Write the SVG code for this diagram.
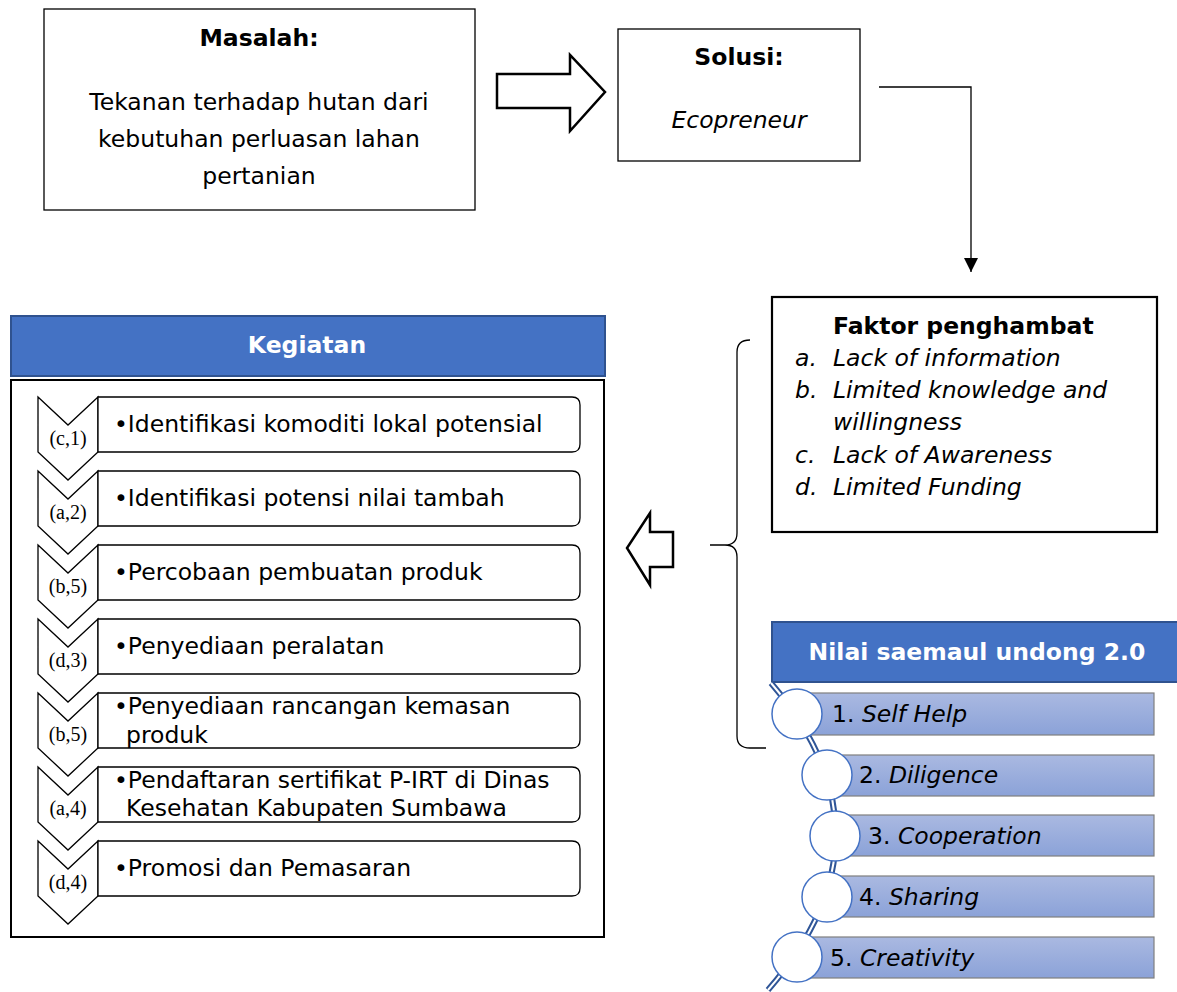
<svg xmlns="http://www.w3.org/2000/svg" width="1177" height="992" viewBox="0 0 1177 992">
<style>
.t{font-family:"DejaVu Sans","Liberation Sans",sans-serif;fill:#000;font-size:23.5px}
.b{font-weight:bold}
.i{font-style:italic}
.box{fill:#fff;stroke:#000;stroke-width:1.3}
.blk{fill:#fff;stroke:#000;stroke-width:2.5;stroke-linejoin:miter}
.hdr{fill:#4472C4;stroke:#2F528F;stroke-width:2}
.wt{font-family:"DejaVu Sans","Liberation Sans",sans-serif;font-weight:bold;fill:#fff;font-size:23.5px}
.chev{fill:#fff;stroke:#000;stroke-width:1.3}
.row{fill:#fff;stroke:#000;stroke-width:1.3}
.lbl{font-family:"Liberation Serif","Times New Roman",serif;font-size:20px;fill:#000}
.bar{fill:url(#g);stroke:#7f7f7f;stroke-width:1.2}
.cir{fill:#fff;stroke:#4472C4;stroke-width:1.5}
</style>
<defs>
<linearGradient id="g" x1="0" y1="0" x2="0" y2="1">
<stop offset="0" stop-color="#aab9e1"/>
<stop offset="1" stop-color="#8ba2d8"/>
</linearGradient>
<marker id="ah" markerWidth="14" markerHeight="14" refX="14" refY="7" orient="auto" markerUnits="userSpaceOnUse" viewBox="0 0 14 14">
<path d="M0 0 L14 7 L0 14 Z" fill="#000"/>
</marker>
</defs>

<g id="masalah">
<rect class="box" x="44" y="9" width="431" height="201"/>
<text class="t b" x="259" y="46" text-anchor="middle">Masalah:</text>
<text class="t" x="259" y="110" text-anchor="middle">Tekanan terhadap hutan dari</text>
<text class="t" x="259" y="147" text-anchor="middle">kebutuhan perluasan lahan</text>
<text class="t" x="259" y="184" text-anchor="middle">pertanian</text>
</g>

<g id="arrow-right">
<polygon class="blk" points="497,74 570,74 570,55 605,92 570,131 570,108 497,108"/>
</g>

<g id="solusi">
<rect class="box" x="618" y="29" width="242" height="132"/>
<text class="t b" x="739" y="65" text-anchor="middle">Solusi:</text>
<text class="t i" x="739" y="128" text-anchor="middle">Ecopreneur</text>
</g>

<g id="connectors">
<path d="M879 87 L971 87 L971 272" fill="none" stroke="#000" stroke-width="1.3" marker-end="url(#ah)"/>
<path d="M750 340 Q737 340 737 352 L737 533 Q737 545 725 545 L710 545 M725 545 Q737 545 737 557 L737 736 Q737 748 750 748 L766 748" fill="none" stroke="#000" stroke-width="1.3"/>
</g>

<g id="faktor">
<rect x="772" y="297" width="385" height="235" fill="#fff" stroke="#000" stroke-width="2.2"/>
<text class="t b" x="833" y="334">Faktor penghambat</text>
<g class="t i">
<text x="795" y="366">a.</text><text x="833" y="366">Lack of information</text>
<text x="795" y="398">b.</text><text x="833" y="398">Limited knowledge and</text>
<text x="833" y="430">willingness</text>
<text x="795" y="463">c.</text><text x="833" y="463">Lack of Awareness</text>
<text x="795" y="495">d.</text><text x="833" y="495">Limited Funding</text>
</g>
</g>

<g id="arrow-left">
<polygon class="blk" points="673,532 650,532 650,513 627,548 650,585 650,567 673,567"/>
</g>

<g id="kegiatan">
<rect class="hdr" x="11" y="316" width="594" height="60"/>
<text class="wt" x="307" y="353" text-anchor="middle">Kegiatan</text>
<rect x="11" y="380" width="593" height="557" fill="#fff" stroke="#000" stroke-width="2"/>
</g>

<g id="step1">
<polygon class="chev" points="38,397 68,425 98,397 98,452 68,480 38,452"/>
<path class="row" d="M98 397 H572 Q580 397 580 405 V444 Q580 452 572 452 H98 Z"/>
<text class="lbl" x="68" y="445" text-anchor="middle">(c,1)</text>
<text class="t" x="114" y="432">•Identifikasi komoditi lokal potensial</text>
</g>
<g id="step2">
<polygon class="chev" points="38,471 68,499 98,471 98,526 68,554 38,526"/>
<path class="row" d="M98 471 H572 Q580 471 580 479 V518 Q580 526 572 526 H98 Z"/>
<text class="lbl" x="68" y="519" text-anchor="middle">(a,2)</text>
<text class="t" x="114" y="506">•Identifikasi potensi nilai tambah</text>
</g>
<g id="step3">
<polygon class="chev" points="38,545 68,573 98,545 98,600 68,628 38,600"/>
<path class="row" d="M98 545 H572 Q580 545 580 553 V592 Q580 600 572 600 H98 Z"/>
<text class="lbl" x="68" y="593" text-anchor="middle">(b,5)</text>
<text class="t" x="114" y="580">•Percobaan pembuatan produk</text>
</g>
<g id="step4">
<polygon class="chev" points="38,619 68,647 98,619 98,674 68,702 38,674"/>
<path class="row" d="M98 619 H572 Q580 619 580 627 V666 Q580 674 572 674 H98 Z"/>
<text class="lbl" x="68" y="667" text-anchor="middle">(d,3)</text>
<text class="t" x="114" y="654">•Penyediaan peralatan</text>
</g>
<g id="step5">
<polygon class="chev" points="38,693 68,721 98,693 98,748 68,776 38,748"/>
<path class="row" d="M98 693 H572 Q580 693 580 701 V740 Q580 748 572 748 H98 Z"/>
<text class="lbl" x="68" y="741" text-anchor="middle">(b,5)</text>
<text class="t" x="114" y="714">•Penyediaan rancangan kemasan</text>
<text class="t" x="126" y="743">produk</text>
</g>
<g id="step6">
<polygon class="chev" points="38,767 68,795 98,767 98,822 68,850 38,822"/>
<path class="row" d="M98 767 H572 Q580 767 580 775 V814 Q580 822 572 822 H98 Z"/>
<text class="lbl" x="68" y="815" text-anchor="middle">(a,4)</text>
<text class="t" x="114" y="788">•Pendaftaran sertifikat P-IRT di Dinas</text>
<text class="t" x="126" y="816">Kesehatan Kabupaten Sumbawa</text>
</g>
<g id="step7">
<polygon class="chev" points="38,841 68,869 98,841 98,896 68,924 38,896"/>
<path class="row" d="M98 841 H572 Q580 841 580 849 V888 Q580 896 572 896 H98 Z"/>
<text class="lbl" x="68" y="889" text-anchor="middle">(d,4)</text>
<text class="t" x="114" y="876">•Promosi dan Pemasaran</text>
</g>

<g id="nilai">
<rect class="hdr" x="772" y="622" width="410" height="60"/>
<text class="wt" x="977" y="660" text-anchor="middle">Nilai saemaul undong 2.0</text>
<path d="M771 683 Q902 836 768 990" fill="none" stroke="#2F5597" stroke-width="6"/>
<path d="M771 683 Q902 836 768 990" fill="none" stroke="#fff" stroke-width="2"/>
</g>
<g id="v1">
<rect class="bar" x="805" y="693" width="349" height="42"/>
<circle class="cir" cx="797" cy="714" r="25"/>
<text class="t" x="832" y="722" font-size="24">1. <tspan font-style="italic">Self Help</tspan></text>
</g>
<g id="v2">
<rect class="bar" x="835" y="755" width="319" height="41"/>
<circle class="cir" cx="827" cy="775" r="25"/>
<text class="t" x="859" y="783" font-size="24">2. <tspan font-style="italic">Diligence</tspan></text>
</g>
<g id="v3">
<rect class="bar" x="843" y="815" width="311" height="41"/>
<circle class="cir" cx="835" cy="836" r="25"/>
<text class="t" x="868" y="844" font-size="24">3. <tspan font-style="italic">Cooperation</tspan></text>
</g>
<g id="v4">
<rect class="bar" x="835" y="876" width="319" height="41"/>
<circle class="cir" cx="827" cy="897" r="25"/>
<text class="t" x="859" y="905" font-size="24">4. <tspan font-style="italic">Sharing</tspan></text>
</g>
<g id="v5">
<rect class="bar" x="805" y="937" width="349" height="41"/>
<circle class="cir" cx="797" cy="957" r="25"/>
<text class="t" x="830" y="966" font-size="24">5. <tspan font-style="italic">Creativity</tspan></text>
</g>
</svg>
